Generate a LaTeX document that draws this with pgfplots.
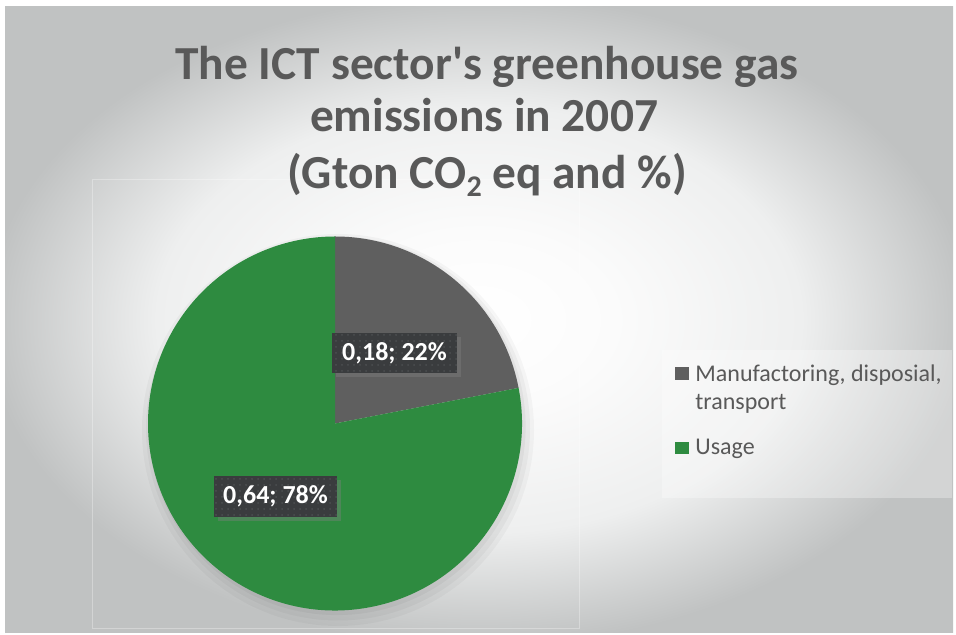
\documentclass[border=0pt]{standalone}
\usepackage{pgfplots}
\pgfplotsset{compat=1.18}
\usepackage{pgfplotstable}
\usepackage{fontspec}
\setmainfont{Carlito}
\usetikzlibrary{patterns,shadows}

\definecolor{slicegray}{RGB}{95,95,95}
\definecolor{slicegreen}{RGB}{46,139,64}
\definecolor{titlegray}{RGB}{89,89,89}
\definecolor{labelbox}{RGB}{58,60,62}
\definecolor{labeldots}{RGB}{76,79,81}
\definecolor{bgedge}{RGB}{192,194,194}
\definecolor{bgmid}{RGB}{238,239,239}

\pgfdeclareradialshading{chartbg}{\pgfpoint{0bp}{0bp}}{%
  color(0bp)=(white); color(7bp)=(white!97!gray); color(17bp)=(bgmid);
  color(26bp)=(bgedge); color(50bp)=(bgedge)}

% Gton CO2 eq
\pgfplotstableread{
part value
manufacturing 0.18
usage 0.64
}\emissions

\begin{document}
\begin{tikzpicture}
\pgfplotstablegetelem{0}{value}\of\emissions \let\vman\pgfplotsretval
\pgfplotstablegetelem{1}{value}\of\emissions \let\vuse\pgfplotsretval
\pgfmathsetmacro\aman{360*\vman/(\vman+\vuse)}
\pgfmathsetmacro\aend{90-\aman}
\begin{axis}[
  scale only axis, width=478pt, height=317.5pt,
  xmin=0, xmax=956, ymin=0, ymax=635,
  hide axis, clip=false,
]
% background
\fill[white] (axis cs:0,0) rectangle (axis cs:956,635);
\shade[shading=chartbg] (axis cs:5,2) rectangle (axis cs:953,628);
\draw[white, opacity=0.3, line width=0.4pt] (axis cs:92,7) rectangle (axis cs:579,456);

% title
\node[anchor=base, text=titlegray, font=\fontsize{23.7}{27}\selectfont\bfseries]
  at (axis cs:487,555) {The ICT sector\textquotesingle s greenhouse gas};
\node[anchor=base, text=titlegray, font=\fontsize{23.7}{27}\selectfont\bfseries]
  at (axis cs:484,503) {emissions in 2007};
\node[anchor=base, text=titlegray, font=\fontsize{23.7}{27}\selectfont\bfseries]
  at (axis cs:487,446.5) {(Gton CO\raisebox{-4pt}{\fontsize{15}{15}\selectfont 2} eq and \%)};

% soft shadow of the pie
\fill[black, opacity=0.03] (axis cs:338,205) circle[radius=98pt];
\fill[black, opacity=0.035] (axis cs:338,206.5) circle[radius=96pt];
\fill[black, opacity=0.04] (axis cs:337,208.5) circle[radius=94.3pt];

% pie
\fill[slicegray] (axis cs:335,211.5) -- ++(90:93.5pt)
  arc[start angle=90, end angle=\aend, radius=93.5pt] -- cycle;
\fill[slicegreen] (axis cs:335,211.5) -- ++(\aend:93.5pt)
  arc[start angle=\aend, end angle=-270, radius=93.5pt] -- cycle;

% data labels
\node[fill=labelbox, minimum width=62.5pt, minimum height=20pt, inner sep=0pt,
  drop shadow={opacity=0.4, shadow xshift=2pt, shadow yshift=-2pt},
  postaction={pattern=dots, pattern color=labeldots},
  text=white, font=\fontsize{13}{15}\selectfont\bfseries]
  at (axis cs:394.5,282) {0,18; 22\%};
\node[fill=labelbox, minimum width=61.5pt, minimum height=20.5pt, inner sep=0pt,
  drop shadow={opacity=0.4, shadow xshift=2pt, shadow yshift=-2pt},
  postaction={pattern=dots, pattern color=labeldots},
  text=white, font=\fontsize{13}{15}\selectfont\bfseries]
  at (axis cs:275.5,138.5) {0,64; 78\%};

% legend
\fill[white, opacity=0.3] (axis cs:662,137) rectangle (axis cs:952,285);
\fill[slicegray] (axis cs:675,255) rectangle (axis cs:689,268);
\node[anchor=base west, inner sep=0pt, text=titlegray, font=\fontsize{12}{14}\selectfont]
  at (axis cs:695,253) {Manufactoring, disposial,};
\node[anchor=base west, inner sep=0pt, text=titlegray, font=\fontsize{12}{14}\selectfont]
  at (axis cs:695,225) {transport};
\fill[slicegreen] (axis cs:675,181) rectangle (axis cs:689,193);
\node[anchor=base west, inner sep=0pt, text=titlegray, font=\fontsize{12}{14}\selectfont]
  at (axis cs:695,180) {Usage};
\end{axis}
\end{tikzpicture}
\end{document}
